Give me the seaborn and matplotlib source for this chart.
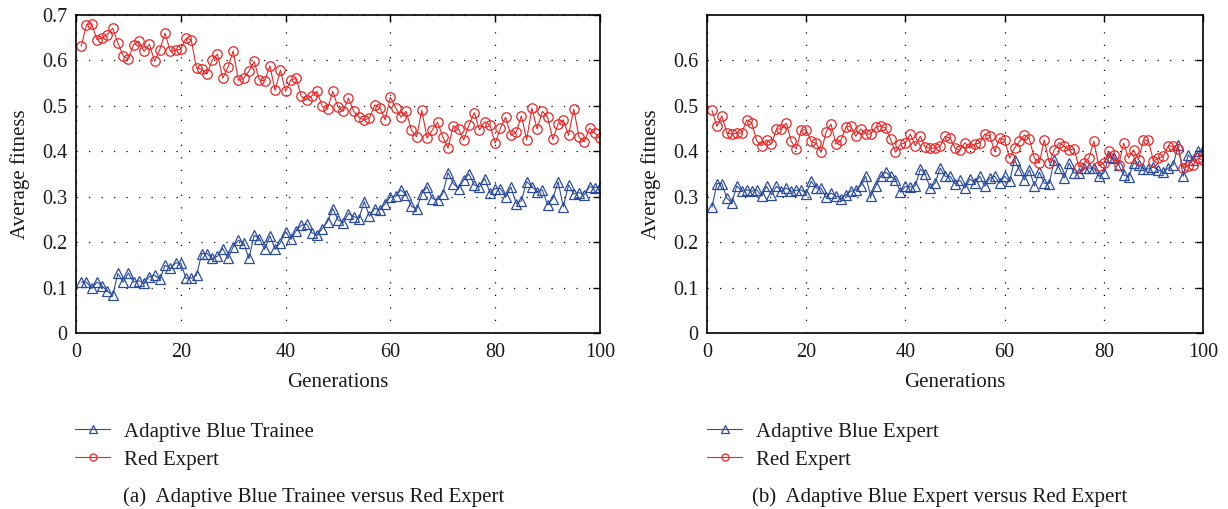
import numpy as np
import pandas as pd
import matplotlib
matplotlib.use("Agg")
import matplotlib.pyplot as plt
import seaborn as sns

generations = list(range(1, 101))

# Panel (a): Adaptive Blue Trainee vs Red Expert
red_a = [0.631, 0.679, 0.681, 0.646, 0.649, 0.657, 0.671, 0.638, 0.610, 0.603,
         0.635, 0.642, 0.620, 0.636, 0.598, 0.624, 0.660, 0.620, 0.622, 0.625,
         0.649, 0.645, 0.583, 0.581, 0.570, 0.601, 0.614, 0.561, 0.585, 0.621,
         0.556, 0.561, 0.576, 0.598, 0.557, 0.555, 0.588, 0.534, 0.579, 0.532,
         0.557, 0.561, 0.521, 0.513, 0.522, 0.532, 0.499, 0.493, 0.532, 0.497,
         0.488, 0.517, 0.488, 0.475, 0.469, 0.473, 0.502, 0.496, 0.469, 0.519,
         0.496, 0.475, 0.488, 0.447, 0.432, 0.490, 0.429, 0.447, 0.464, 0.432,
         0.407, 0.456, 0.449, 0.425, 0.458, 0.485, 0.447, 0.465, 0.458, 0.418,
         0.451, 0.475, 0.435, 0.442, 0.478, 0.425, 0.495, 0.449, 0.488, 0.475,
         0.426, 0.460, 0.469, 0.435, 0.493, 0.431, 0.421, 0.451, 0.440, 0.430]
blue_a = [0.112, 0.112, 0.098, 0.112, 0.103, 0.092, 0.083, 0.131, 0.112, 0.132,
          0.112, 0.115, 0.109, 0.124, 0.127, 0.118, 0.149, 0.142, 0.154, 0.154,
          0.120, 0.121, 0.127, 0.175, 0.175, 0.164, 0.169, 0.186, 0.164, 0.190,
          0.204, 0.199, 0.164, 0.215, 0.208, 0.184, 0.214, 0.184, 0.199, 0.223,
          0.206, 0.225, 0.237, 0.240, 0.221, 0.215, 0.230, 0.245, 0.274, 0.249,
          0.243, 0.263, 0.256, 0.252, 0.289, 0.257, 0.274, 0.271, 0.285, 0.299,
          0.301, 0.315, 0.304, 0.279, 0.272, 0.307, 0.322, 0.296, 0.293, 0.307,
          0.353, 0.329, 0.318, 0.337, 0.350, 0.326, 0.322, 0.340, 0.309, 0.318,
          0.318, 0.299, 0.321, 0.285, 0.291, 0.333, 0.322, 0.311, 0.315, 0.282,
          0.296, 0.333, 0.278, 0.326, 0.306, 0.309, 0.304, 0.322, 0.320, 0.322]

# Panel (b): Adaptive Blue Expert vs Red Expert
red_b = [0.490, 0.455, 0.478, 0.440, 0.438, 0.440, 0.440, 0.469, 0.463, 0.424,
         0.412, 0.425, 0.416, 0.449, 0.449, 0.462, 0.422, 0.405, 0.447, 0.447,
         0.422, 0.418, 0.398, 0.442, 0.460, 0.416, 0.424, 0.453, 0.456, 0.433,
         0.449, 0.438, 0.438, 0.453, 0.456, 0.451, 0.427, 0.398, 0.416, 0.418,
         0.438, 0.412, 0.433, 0.409, 0.407, 0.407, 0.411, 0.433, 0.429, 0.407,
         0.402, 0.419, 0.407, 0.416, 0.418, 0.438, 0.434, 0.400, 0.429, 0.425,
         0.385, 0.407, 0.422, 0.436, 0.427, 0.385, 0.374, 0.425, 0.375, 0.403,
         0.419, 0.411, 0.403, 0.405, 0.365, 0.374, 0.385, 0.422, 0.368, 0.374,
         0.400, 0.392, 0.370, 0.418, 0.385, 0.403, 0.381, 0.425, 0.424, 0.378,
         0.385, 0.389, 0.412, 0.411, 0.405, 0.363, 0.368, 0.370, 0.385, 0.380]
blue_b = [0.277, 0.329, 0.329, 0.297, 0.286, 0.324, 0.312, 0.315, 0.312, 0.315,
          0.302, 0.323, 0.304, 0.323, 0.312, 0.319, 0.312, 0.314, 0.315, 0.307,
          0.334, 0.319, 0.319, 0.299, 0.308, 0.302, 0.296, 0.304, 0.312, 0.315,
          0.324, 0.345, 0.301, 0.323, 0.345, 0.354, 0.345, 0.337, 0.310, 0.323,
          0.321, 0.324, 0.361, 0.350, 0.319, 0.330, 0.363, 0.345, 0.345, 0.329,
          0.336, 0.319, 0.339, 0.330, 0.345, 0.323, 0.341, 0.345, 0.330, 0.345,
          0.334, 0.381, 0.359, 0.337, 0.359, 0.324, 0.354, 0.330, 0.329, 0.381,
          0.363, 0.341, 0.374, 0.352, 0.352, 0.363, 0.363, 0.363, 0.345, 0.352,
          0.387, 0.385, 0.370, 0.348, 0.343, 0.374, 0.370, 0.361, 0.361, 0.365,
          0.359, 0.354, 0.363, 0.370, 0.414, 0.345, 0.392, 0.381, 0.400, 0.403]

x_ticks = [0, 20, 40, 60, 80, 100]
y_ticks_a = [0, 0.1, 0.2, 0.3, 0.4, 0.5, 0.6, 0.7]
y_ticks_b = [0, 0.1, 0.2, 0.3, 0.4, 0.5, 0.6]

labels_a = ["Adaptive Blue Trainee", "Red Expert"]
labels_b = ["Adaptive Blue Expert", "Red Expert"]
caption_a = "(a)  Adaptive Blue Trainee versus Red Expert"
caption_b = "(b)  Adaptive Blue Expert versus Red Expert"

BLUE = "#2b4c9e"
RED = "#ee2424"
TEXT = "#1a1a1a"

sns.set_theme(style="white")
plt.rcParams["font.family"] = ["Liberation Serif", "DejaVu Serif"]
plt.rcParams["font.size"] = 14
plt.rcParams["text.color"] = TEXT
plt.rcParams["axes.labelcolor"] = TEXT

W, H = 1228, 509
fig = plt.figure(figsize=(W / 100, H / 100), dpi=100)

def fbox(x0, x1, y0, y1):
    return [x0 / W, 1 - y1 / H, (x1 - x0) / W, (y1 - y0) / H]

ax_a = fig.add_axes(fbox(76, 600, 15, 333))
ax_b = fig.add_axes(fbox(707, 1203, 15, 333))

def draw(ax, blue, red, labels, yticks, ytick_labels):
    df = pd.DataFrame({"gen": generations, "blue": blue, "red": red})
    sns.lineplot(data=df, x="gen", y="blue", ax=ax, color=BLUE, lw=0.8,
                 marker="^", markersize=7, markerfacecolor="none",
                 markeredgecolor=BLUE, markeredgewidth=0.9, label=labels[0])
    sns.lineplot(data=df, x="gen", y="red", ax=ax, color=RED, lw=0.8,
                 marker="o", markersize=6.8, markerfacecolor="none",
                 markeredgecolor=RED, markeredgewidth=0.9, label=labels[1])
    ax.set_xlim(0, 100)
    ax.set_ylim(0, 0.7)
    ax.set_xticks(x_ticks)
    ax.set_xticklabels([str(t) for t in x_ticks])
    ax.set_yticks(yticks)
    ax.set_yticklabels(ytick_labels)
    ax.grid(True, linestyle=(0, (1, 9)), color="black", linewidth=0.9)
    ax.tick_params(direction="in", top=True, right=True, length=5,
                   width=1, colors="black", labelcolor=TEXT, labelsize=14.5)
    ax.tick_params(axis="x", pad=7)
    ax.tick_params(axis="y", pad=6)
    for s in ax.spines.values():
        s.set_color("black")
        s.set_linewidth(1.2)
    ax.set_xlabel("Generations", fontsize=15, labelpad=8)
    ax.set_ylabel("Average fitness", fontsize=15, labelpad=9)
    ax.get_legend().remove()

draw(ax_a, blue_a, red_a, labels_a, y_ticks_a,
     ["0", "0.1", "0.2", "0.3", "0.4", "0.5", "0.6", "0.7"])
draw(ax_b, blue_b, red_b, labels_b, y_ticks_b,
     ["0", "0.1", "0.2", "0.3", "0.4", "0.5", "0.6"])

for ax, xleft in ((ax_a, 75), (ax_b, 707)):
    h, l = ax.get_legend_handles_labels()
    fig.legend(h, l, loc="upper left", bbox_to_anchor=(xleft / W, 1 - 422 / H),
               frameon=False, fontsize=15, handlelength=1.7, handletextpad=0.65,
               labelspacing=0.4, borderpad=0, borderaxespad=0, markerscale=0.75)

fig.text(123 / W, 1 - 497 / H, caption_a, fontsize=15, va="center", ha="left")
fig.text(752 / W, 1 - 497 / H, caption_b, fontsize=15, va="center", ha="left")

fig.savefig("out.png", dpi=100)
